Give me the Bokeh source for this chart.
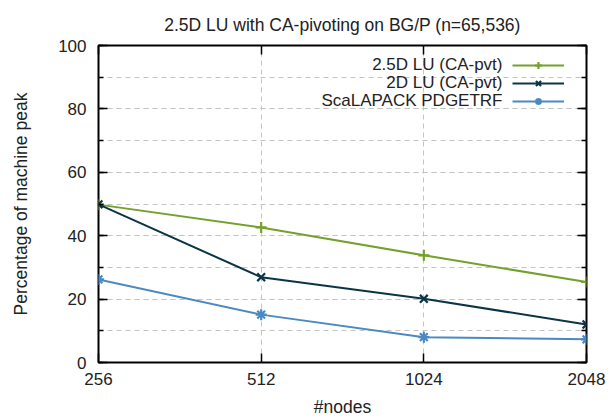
from bokeh.plotting import figure
from bokeh.models import (FixedTicker, SingleIntervalTicker, LinearAxis, LogAxis,
                          Legend, LegendItem, Label)
from bokeh.embed import file_html
from bokeh.resources import INLINE

# ---- data ----
nodes = [256, 512, 1024, 2048]
x_tick_labels = ["256", "512", "1024", "2048"]
lu_25d = [49.8, 42.6, 33.8, 25.4]
lu_2d = [49.9, 26.9, 20.1, 12.0]
scalapack = [26.2, 15.1, 8.0, 7.3]
series_names = ["2.5D LU (CA-pvt)", "2D LU (CA-pvt)", "ScaLAPACK PDGETRF"]
title_text = "2.5D LU with CA-pivoting on BG/P (n=65,536)"

FONT = "Liberation Sans"
GREEN = "#74a02c"
DARK = "#0b3547"
BLUE = "#4a8ac3"
GRID = "#c4c4c4"
TXT = "#222222"

p = figure(width=612, height=419, output_backend="svg", toolbar_location=None,
           x_axis_type="log", x_range=(256, 2048), y_range=(0, 100),
           min_border_left=98, min_border_right=26, min_border_top=45,
           min_border_bottom=57)

p.outline_line_color = "black"
p.outline_line_width = 2
p.background_fill_color = "white"
p.border_fill_color = "white"

p.title.text = title_text
p.title.align = "center"
p.title.text_font = FONT
p.title.text_font_size = "17.5px"
p.title.text_font_style = "normal"
p.title.text_color = TXT
p.title.text_line_height = 1.0
p.title.standoff = 22

yticker = SingleIntervalTicker(interval=20, num_minor_ticks=2)
xticker = FixedTicker(ticks=nodes, minor_ticks=[])
overrides = {n: lab for n, lab in zip(nodes, x_tick_labels)}

def style_axis(ax):
    ax.axis_line_color = None
    ax.major_tick_in = 9
    ax.major_tick_out = 0
    ax.minor_tick_in = 5
    ax.minor_tick_out = 0
    ax.major_tick_line_color = "black"
    ax.minor_tick_line_color = "black"
    ax.major_tick_line_width = 1.5
    ax.minor_tick_line_width = 1.5
    ax.major_label_text_font = FONT
    ax.major_label_text_font_size = "17px"
    ax.major_label_text_color = TXT
    ax.axis_label_text_font = FONT
    ax.axis_label_text_font_size = "17.5px"
    ax.axis_label_text_font_style = "normal"
    ax.axis_label_text_color = TXT

# bottom axis
xa = p.xaxis[0]
xa.ticker = xticker
xa.major_label_overrides = overrides
xa.axis_label = "#nodes"
style_axis(xa)
xa.major_label_text_line_height = 1.0
xa.axis_label_text_line_height = 1.0
xa.major_label_standoff = 10
xa.axis_label_standoff = 9

# left axis
ya = p.yaxis[0]
ya.ticker = yticker
ya.axis_label = "Percentage of machine peak"
style_axis(ya)
ya.major_label_standoff = 12
ya.axis_label_standoff = 24

# mirror axes (ticks only)
ra = LinearAxis(ticker=yticker)
style_axis(ra)
ra.major_label_overrides = {v: "" for v in range(0, 101, 20)}
ra.major_label_standoff = 0
p.add_layout(ra, "right")

ta = LogAxis(ticker=xticker)
style_axis(ta)
ta.major_label_overrides = {n: "" for n in nodes}
ta.major_label_standoff = 0
ta.major_label_text_line_height = 0.5
p.add_layout(ta, "above")

# grids
p.ygrid.ticker = yticker
p.ygrid.grid_line_color = GRID
p.ygrid.grid_line_dash = "5 4"
p.ygrid.minor_grid_line_color = GRID
p.ygrid.minor_grid_line_dash = "5 4"
p.xgrid.ticker = xticker
p.xgrid.grid_line_color = GRID
p.xgrid.grid_line_dash = "5 4"

# series
items = []
for name, vals, color, marker in [
        (series_names[0], lu_25d, GREEN, "cross"),
        (series_names[1], lu_2d, DARK, "x"),
        (series_names[2], scalapack, BLUE, "asterisk")]:
    l = p.line(nodes, vals, line_color=color, line_width=2)
    s = p.scatter(nodes, vals, marker=marker, size=11, line_color=color,
                  line_width=2.2)
    items.append(LegendItem(label="", renderers=[l, s]))

# legend keys (gnuplot style: text left of key)
legend = Legend(items=items, location=(414, 252), glyph_width=52,
                glyph_height=18, spacing=0, padding=0, margin=0,
                label_standoff=0, label_text_font_size="17px",
                label_height=18, border_line_color=None,
                background_fill_alpha=0)
p.add_layout(legend, "center")

for i, name in enumerate(series_names):
    p.add_layout(Label(x=404, y=298 - 18 * i, x_units="screen",
                       y_units="screen", text=name, text_align="right",
                       text_baseline="middle", text_font=FONT,
                       text_font_size="17px", text_color=TXT))

open("out.html", "w").write(file_html(p, INLINE))
